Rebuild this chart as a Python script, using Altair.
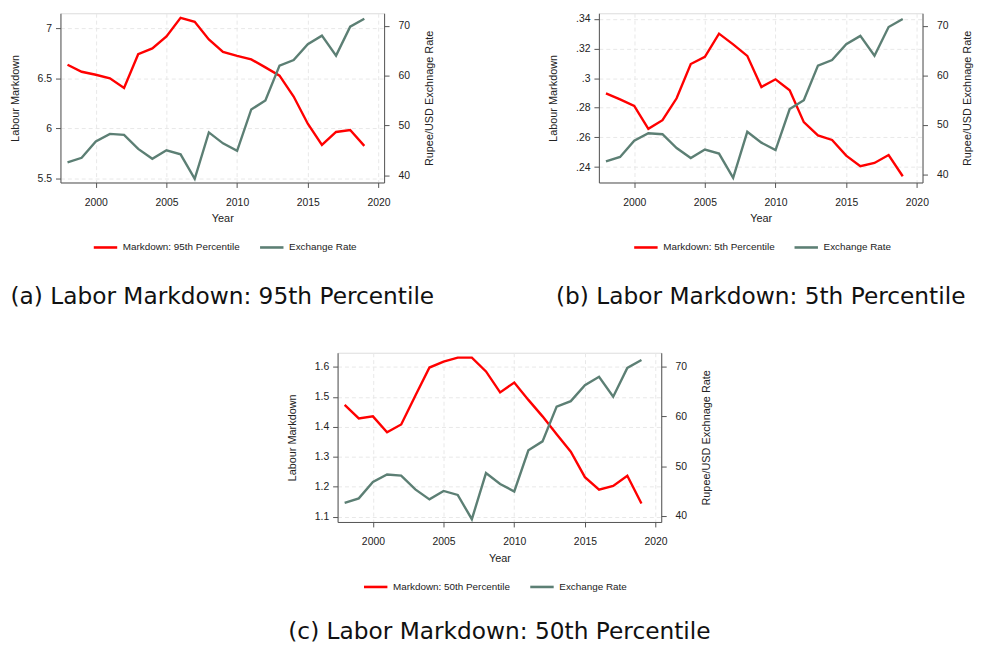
import altair as alt
import pandas as pd

years = list(range(1998, 2020))
exchange_rate = [42.6, 43.5, 46.8, 48.3, 48.1, 45.3, 43.3, 45.0, 44.2, 39.3, 48.6,
                 46.4, 44.9, 53.2, 55.0, 62.0, 63.1, 66.3, 68.0, 64.0, 69.8, 71.4]
markdown_p95 = [6.636, 6.566, 6.536, 6.50, 6.404, 6.742, 6.80, 6.92, 7.106, 7.066, 6.89,
                6.765, 6.725, 6.69, 6.61, 6.527, 6.318, 6.046, 5.834, 5.963, 5.983, 5.824]
markdown_p5 = [0.2897, 0.2857, 0.2813, 0.2658, 0.2716, 0.2864, 0.3095, 0.3144, 0.3300, 0.3228, 0.3150,
               0.2940, 0.2992, 0.2918, 0.2703, 0.2614, 0.2583, 0.2477, 0.2406, 0.2428, 0.2481, 0.2338]
markdown_p50 = [1.473, 1.428, 1.435, 1.382, 1.408, 1.504, 1.598, 1.618, 1.631, 1.631, 1.585,
                1.515, 1.548, 1.490, 1.435, 1.375, 1.317, 1.232, 1.190, 1.203, 1.237, 1.144]

x_ticks = [2000, 2005, 2010, 2015, 2020]
right_ticks = [40, 50, 60, 70]
ticks_p95 = [5.5, 6, 6.5, 7]
ticks_p5 = [0.24, 0.26, 0.28, 0.30, 0.32, 0.34]
ticks_p50 = [1.1, 1.2, 1.3, 1.4, 1.5, 1.6]

RED = "#ff0000"
GREEN = "#5c7f74"
FONT = "Liberation Sans"
GRID = "#e8e8e8"
AX = "#555555"


def panel(md, label, ldom, lticks, lexpr, rdom, caption, lx, cap_offset):
    df = pd.DataFrame({"Year": years, "md": md, "er": exchange_rate,
                       "s1": label, "s2": "Exchange Rate"})
    cscale = alt.Scale(domain=[label, "Exchange Rate"], range=[RED, GREEN])
    legend = alt.Legend(title=None, orient="none", legendX=lx, legendY=223,
                        direction="horizontal", symbolType="stroke", symbolSize=560,
                        symbolStrokeWidth=2.6, labelFontSize=10, labelFont=FONT,
                        labelColor="#222222", columnPadding=14, labelOffset=4)
    xenc = alt.X("Year:Q",
                 scale=alt.Scale(domain=[1997.5, 2020.4], nice=False, zero=False),
                 axis=alt.Axis(values=x_ticks, format="d", title="Year", grid=True,
                               gridDash=[4, 3], gridColor=GRID, tickSize=5,
                               tickColor=AX, domainColor=AX, labelFontSize=10.5,
                               labelPadding=10, titlePadding=5, titleFontSize=11,
                               titleFontWeight="normal"))
    base = alt.Chart(df)
    l1 = base.mark_line(strokeWidth=2.4).encode(
        x=xenc,
        y=alt.Y("md:Q", scale=alt.Scale(domain=ldom, nice=False, zero=False),
                axis=alt.Axis(values=lticks, labelExpr=lexpr, title="Labour Markdown",
                              grid=True, gridDash=[4, 3], gridColor=GRID, tickSize=5,
                              tickColor=AX, domainColor=AX, labelFontSize=10.5,
                              labelPadding=4, titlePadding=17, titleFontSize=11,
                              titleFontWeight="normal")),
        color=alt.Color("s1:N", scale=cscale, legend=legend),
    )
    l2 = base.mark_line(strokeWidth=2.4).encode(
        x=xenc,
        y=alt.Y("er:Q", scale=alt.Scale(domain=rdom, nice=False, zero=False),
                axis=alt.Axis(orient="right", values=right_ticks, title="Rupee/USD Exchnage Rate",
                              grid=False, tickSize=5, tickColor=AX, domainColor=AX,
                              labelFontSize=10.5, labelPadding=9, titlePadding=14,
                              titleFontSize=11, titleFontWeight="normal", titleAngle=270,
                              titleBaseline="top")),
        color=alt.Color("s2:N", scale=cscale, legend=legend),
    )
    return alt.layer(l1, l2).resolve_scale(y="independent").properties(
        width=327, height=171,
        title=alt.TitleParams(caption, orient="bottom", anchor="middle", fontSize=23.5,
                              font="DejaVu Sans", fontWeight="normal", color="#111111",
                              offset=cap_offset),
    )


pa = panel(markdown_p95, "Markdown: 95th Percentile", [5.457, 7.152], ticks_p95,
           "format(datum.value, '~g')", [38.55, 72.5],
           "(a) Labor Markdown: 95th Percentile", 32, 33)
pb = panel(markdown_p5, "Markdown: 5th Percentile", [0.2296, 0.34375], ticks_p5,
           "replace(format(datum.value, '.2~f'), '0.', '.')", [38.34, 72.58],
           "(b) Labor Markdown: 5th Percentile", 34, 33)
pc = panel(markdown_p50, "Markdown: 50th Percentile", [1.0824, 1.6474], ticks_p50,
           "format(datum.value, '.1f')", [38.74, 72.86],
           "(c) Labor Markdown: 50th Percentile", 25, 28)

spacer = alt.Chart(pd.DataFrame({"v": [0]})).mark_point(opacity=0).encode(
    x=alt.value(0), y=alt.value(0)
).properties(width=226, height=1,
             view=alt.ViewBackground(stroke="transparent", fill="transparent"))

top = alt.hconcat(pa, pb, spacing=112).resolve_scale(color="independent")
bottom = alt.hconcat(spacer, pc, spacing=0).resolve_scale(color="independent")
chart = alt.vconcat(top, bottom, spacing=40).resolve_scale(color="independent").properties(
    padding={"left": 0, "top": 1, "right": 0, "bottom": 0}
).configure_view(stroke=None).configure(
    font=FONT
).configure_axis(
    labelFont=FONT, titleFont=FONT, labelColor="#222222", titleColor="#222222"
)

chart.save("out.html", embed_options={"renderer": "svg", "actions": False})
